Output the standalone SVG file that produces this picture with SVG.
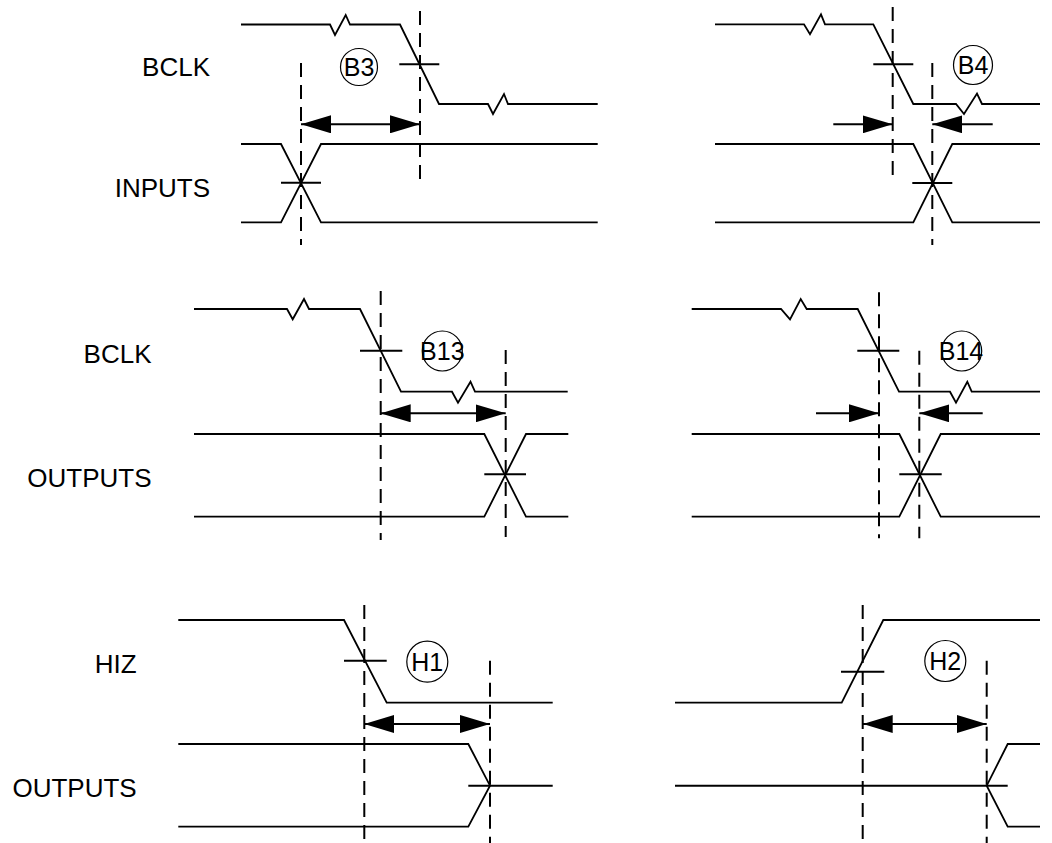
<svg xmlns="http://www.w3.org/2000/svg" width="1052" height="843" viewBox="0 0 1052 843">
<style>
.bg{fill:#fff}
.sig{fill:none;stroke:#000;stroke-width:1.8;stroke-linejoin:miter}
.tick{fill:none;stroke:#000;stroke-width:2}
.dash{fill:none;stroke:#000;stroke-width:2;stroke-dasharray:14 8}
.dim{fill:none;stroke:#000;stroke-width:2}
.tag{fill:none;stroke:#000;stroke-width:1.2}
.lbl{font-family:"Liberation Sans",Arial,sans-serif;font-size:26px;fill:#000;text-anchor:end}
.tagt{font-family:"Liberation Sans",Arial,sans-serif;font-size:25px;fill:#000;text-anchor:middle}
</style>
<defs>
<marker id="ah" markerUnits="userSpaceOnUse" markerWidth="30" markerHeight="18" viewBox="0 0 30 18" refX="30" refY="9" orient="auto-start-reverse">
<path d="M0,0 L30,9 L0,18 Z" fill="#000"/>
</marker>
</defs>
<rect class="bg" x="0" y="0" width="1052" height="843"/>

<g id="labels">
<text class="lbl" x="210" y="76">BCLK</text>
<text class="lbl" x="210" y="196.7">INPUTS</text>
<text class="lbl" x="151.5" y="362.7">BCLK</text>
<text class="lbl" x="151.5" y="486.7">OUTPUTS</text>
<text class="lbl" x="136.7" y="673.3">HIZ</text>
<text class="lbl" x="136.7" y="796.7">OUTPUTS</text>
</g>

<g id="panel-b3">
<path class="sig" d="M241,24.5 H330 L335,35 L345.7,15 L350,24.5 H400 L439,104 H488 L493,114 L504,94 L508,104 H597.7"/>
<path class="tick" d="M399.3,64.3 H439.3"/>
<path class="sig" d="M241,144 H281 L321,222.3 H597.7 M241,222.3 H281 L321,144 H597.7"/>
<path class="tick" d="M281,182.7 H321"/>
<path class="dash" d="M420,11 V183 M301,63 V245"/>
<g id="tag-b3"><circle class="tag" cx="359" cy="67" r="18.5"/><text class="tagt" x="359" y="76">B3</text></g>
</g>

<g id="panel-b4">
<path class="sig" d="M715,24.3 H804 L810,34.3 L821,14.3 L825,24.3 H873.3 L913.3,104 H956 L964,114 L977,93.5 L982,104 H1040"/>
<path class="tick" d="M873.3,64.3 H913.3"/>
<path class="sig" d="M715,144 H913.3 L952.3,222.3 H1040 M715,222.3 H913.3 L952.3,144 H1040"/>
<path class="tick" d="M912.3,183 H952.3"/>
<path class="dash" d="M892.7,7 V183 M932.3,63 V245"/>
<g id="tag-b4"><circle class="tag" cx="973" cy="65" r="19.5"/><text class="tagt" x="973" y="74">B4</text></g>
</g>

<g id="panel-b13">
<path class="sig" d="M194,309 H287 L292.7,319.3 L304,299 L309,309 H360 L401,391.7 H452 L458,402.7 L470.5,381.7 L475,391.7 H567.7"/>
<path class="tick" d="M360,350.7 H402.3"/>
<path class="sig" d="M194,434 H484.3 L526,516.7 H568.3 M194,516.7 H484.3 L526,434 H568.3"/>
<path class="tick" d="M484.3,474.3 H526"/>
<path class="dash" d="M380.7,291 V540 M505.7,350 V537"/>
<g id="tag-b13"><circle class="tag" cx="442.3" cy="351" r="20"/><text class="tagt" x="442.3" y="360">B13</text></g>
</g>

<g id="panel-b14">
<path class="sig" d="M691.7,309 H781 L790,319.3 L800.7,299 L806.7,309 H857.7 L899,391.7 H950 L956,402.7 L967.3,381.7 L971.7,391.7 H1040"/>
<path class="tick" d="M857.3,350.7 H899.3"/>
<path class="sig" d="M691.7,434 H899.3 L940.7,516.7 H1040 M691.7,516.7 H899.3 L940.7,434 H1040"/>
<path class="tick" d="M899.3,474.3 H941.7"/>
<path class="dash" d="M879,292.3 V538.3 M919.3,350.7 V538.3"/>
<g id="tag-b14"><circle class="tag" cx="961.7" cy="351" r="20"/><text class="tagt" x="961" y="360">B14</text></g>
</g>

<g id="panel-h1">
<path class="sig" d="M178.3,620 H344 L386.7,702.7 H552.7"/>
<path class="tick" d="M344,660.7 H386.7"/>
<path class="sig" d="M178.3,744 H468.3 L490,785.7 L468.3,826.7 H178.3"/>
<path class="tick" d="M468.3,785.7 H552.7"/>
<path class="dash" d="M364.3,605 V843 M490,660.7 V843"/>
<g id="tag-h1"><circle class="tag" cx="427.3" cy="661.7" r="20.5"/><text class="tagt" x="427.3" y="670.7">H1</text></g>
</g>

<g id="panel-h2">
<path class="sig" d="M675,702.7 H841.7 L883.3,620 H1040"/>
<path class="tick" d="M841,671.7 H884.3"/>
<path class="sig" d="M1040,744 H1007.7 L986.7,785.7 L1007.7,826.7 H1040"/>
<path class="tick" d="M675,785.7 H1007.7"/>
<path class="dash" d="M862.7,605 V843 M986.7,660.7 V843"/>
<g id="tag-h2"><circle class="tag" cx="945.3" cy="661" r="20.5"/><text class="tagt" x="945.3" y="670">H2</text></g>
</g>

<g id="connectors">
<path class="dim" d="M301,124.3 H420" marker-start="url(#ah)" marker-end="url(#ah)"/>
<path class="dim" d="M833.3,124.3 H892.7" marker-end="url(#ah)"/>
<path class="dim" d="M992.7,124.3 H932.3" marker-end="url(#ah)"/>
<path class="dim" d="M380.7,413.3 H505.7" marker-start="url(#ah)" marker-end="url(#ah)"/>
<path class="dim" d="M816,413.3 H879" marker-end="url(#ah)"/>
<path class="dim" d="M982.7,413.3 H919.3" marker-end="url(#ah)"/>
<path class="dim" d="M364.3,724 H490" marker-start="url(#ah)" marker-end="url(#ah)"/>
<path class="dim" d="M862.7,724 H986.7" marker-start="url(#ah)" marker-end="url(#ah)"/>
</g>
</svg>
